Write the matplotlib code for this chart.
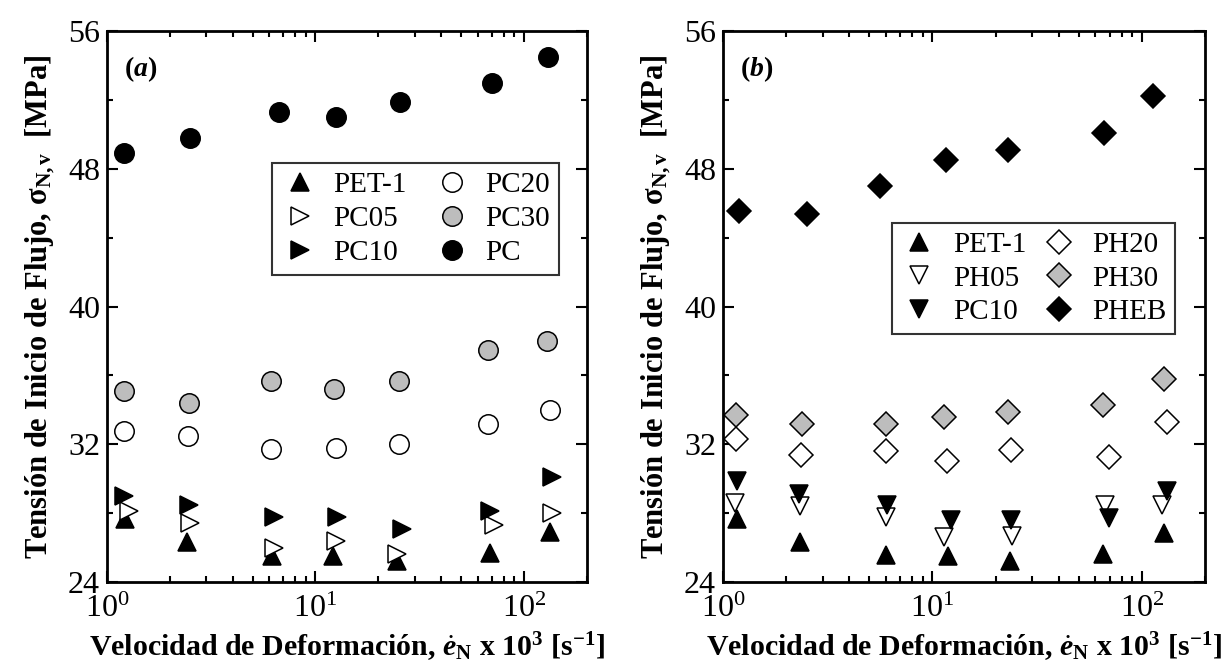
import matplotlib
matplotlib.use("Agg")
import matplotlib.pyplot as plt
from matplotlib.ticker import FixedLocator, LogLocator, NullFormatter

plt.rcParams["font.family"] = ["Liberation Serif", "DejaVu Serif"]
plt.rcParams["mathtext.fontset"] = "custom"
plt.rcParams["mathtext.rm"] = "Liberation Serif"
plt.rcParams["mathtext.it"] = "Liberation Serif:italic"
plt.rcParams["mathtext.bf"] = "Liberation Serif:bold"
plt.rcParams["mathtext.bfit"] = "Liberation Serif:bold:italic"

# ---- panel (a) ----
pet1_x = [1.22, 2.42, 6.17, 12.2, 24.5, 68.4, 133]
pet1_y = [27.66, 26.35, 25.5, 25.5, 25.2, 25.7, 26.9]
pc05_x = [1.28, 2.49, 6.3, 12.6, 24.5, 71.7, 137]
pc05_y = [28.1, 27.4, 26.0, 26.4, 25.65, 27.3, 28.0]
pc10_x = [1.2, 2.47, 6.3, 12.7, 26, 69, 137]
pc10_y = [29.0, 28.5, 27.8, 27.75, 27.1, 28.1, 30.1]
pc20_x = [1.2, 2.44, 6.15, 12.5, 25.1, 67, 133]
pc20_y = [32.75, 32.5, 31.73, 31.8, 32.0, 33.2, 34.0]
pc30_x = [1.2, 2.46, 6.15, 12.3, 25.1, 67.4, 129]
pc30_y = [35.1, 34.4, 35.65, 35.2, 35.65, 37.5, 38.0]
pc_x = [1.2, 2.49, 6.68, 12.5, 25.3, 70.4, 130]
pc_y = [48.9, 49.8, 51.3, 51.0, 51.9, 53.0, 54.5]

# ---- panel (b) ----
pet1b_x = [1.17, 2.34, 6.03, 11.9, 23.4, 65, 127]
pet1b_y = [27.66, 26.35, 25.55, 25.5, 25.2, 25.65, 26.85]
ph05_x = [1.14, 2.34, 6.03, 11.36, 23.9, 66.4, 125]
ph05_y = [28.6, 28.4, 27.8, 26.6, 26.65, 28.45, 28.5]
pc10b_x = [1.17, 2.31, 6.05, 12.2, 23.7, 69.4, 132]
pc10b_y = [29.85, 29.1, 28.5, 27.6, 27.6, 27.7, 29.3]
ph20_x = [1.16, 2.36, 6.03, 11.7, 23.6, 69.4, 131]
ph20_y = [32.28, 31.4, 31.6, 31.0, 31.66, 31.24, 33.3]
ph30_x = [1.16, 2.39, 6.03, 11.36, 23.0, 65, 127]
ph30_y = [33.7, 33.2, 33.2, 33.6, 33.9, 34.3, 35.8]
pheb_x = [1.19, 2.52, 5.6, 11.6, 22.9, 65.8, 113.5]
pheb_y = [45.57, 45.4, 47.0, 48.5, 49.1, 50.1, 52.2]

GRAY = "#bdbdbd"
MARKER_SIZE = {"o": 14, "^": 13, ">": 13, "v": 13, "D": 12.5}

series_a = [
    ("PET-1", pet1_x, pet1_y, "^", "black"),
    ("PC05", pc05_x, pc05_y, ">", "white"),
    ("PC10", pc10_x, pc10_y, ">", "black"),
    ("PC20", pc20_x, pc20_y, "o", "white"),
    ("PC30", pc30_x, pc30_y, "o", GRAY),
    ("PC", pc_x, pc_y, "o", "black"),
]
series_b = [
    ("PET-1", pet1b_x, pet1b_y, "^", "black"),
    ("PH05", ph05_x, ph05_y, "v", "white"),
    ("PC10", pc10b_x, pc10b_y, "v", "black"),
    ("PH20", ph20_x, ph20_y, "D", "white"),
    ("PH30", ph30_x, ph30_y, "D", GRAY),
    ("PHEB", pheb_x, pheb_y, "D", "black"),
]

fig = plt.figure(figsize=(12.3, 6.71), dpi=100)
ax_a = fig.add_axes([0.087, 0.1326, 0.390, 0.8212])
ax_b = fig.add_axes([0.5878, 0.1326, 0.3919, 0.8212])

xlabel = (r"Velocidad de Deformación, $\dot{\mathbfit{e}}_{\mathbf{N}}$"
          r" x 10$^{\mathbf{3}}$ [s$^{\mathbf{-1}}$]")
ylabel = r"Tensión de Inicio de Flujo, σ$_{\mathbf{N,v}}$  [MPa]"

for ax, series, tag, leg_box in [
    (ax_a, series_a, r"($\mathbfit{a}$)", (0.344, 0.545, 0.598, 0.215)),
    (ax_b, series_b, r"($\mathbfit{b}$)", (0.35, 0.436, 0.588, 0.216)),
]:
    for name, xs, ys, mk, fc in series:
        ax.plot(xs, ys, linestyle="none", marker=mk, markersize=MARKER_SIZE[mk],
                markerfacecolor=fc, markeredgecolor="black",
                markeredgewidth=1.1, label=name)

    ax.set_xscale("log")
    ax.set_xlim(1, 200)
    ax.set_ylim(24, 56)
    ax.yaxis.set_major_locator(FixedLocator([24, 32, 40, 48, 56]))
    ax.yaxis.set_minor_locator(FixedLocator([28, 36, 44, 52]))
    ax.xaxis.set_major_locator(LogLocator(base=10, numticks=10))
    ax.xaxis.set_minor_locator(LogLocator(base=10, subs=range(2, 10), numticks=10))
    ax.xaxis.set_minor_formatter(NullFormatter())

    ax.tick_params(which="both", direction="in", top=True, right=True,
                   width=1.5, labelsize=23)
    ax.tick_params(which="major", length=8)
    ax.tick_params(which="minor", length=4)
    ax.tick_params(axis="x", which="major", pad=9)
    ax.tick_params(axis="y", which="major", pad=5)
    for sp in ax.spines.values():
        sp.set_linewidth(2)

    ax.set_xlabel(xlabel, fontsize=21.5, fontweight="bold", labelpad=5)
    ax.set_ylabel(ylabel, fontsize=22, fontweight="bold", labelpad=8)

    ax.text(0.035, 0.93, tag, transform=ax.transAxes, fontsize=20,
            fontweight="bold", ha="left", va="center")

    leg = ax.legend(ncol=2, loc="upper left", bbox_to_anchor=leg_box,
                    mode="expand", fontsize=21, frameon=True, fancybox=False,
                    edgecolor="black", handletextpad=0.5, columnspacing=0.6,
                    borderpad=0.3, labelspacing=0.25, handlelength=1.3,
                    borderaxespad=0)
    leg.get_frame().set_linewidth(1.5)

fig.savefig("out.png", dpi=100)
